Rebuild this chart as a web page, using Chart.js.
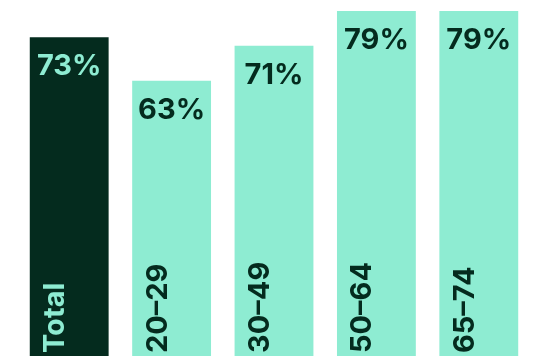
<!DOCTYPE html>
<html>
<head>
<meta charset="utf-8">
<script src="https://cdn.jsdelivr.net/npm/chart.js@4"></script>
<style>
  html, body { margin: 0; padding: 0; background: #ffffff; }
  #wrap { width: 542px; height: 356px; position: relative; }
</style>
</head>
<body>
<div id="wrap"><canvas id="chart"></canvas></div>
<script>
// share of respondents by age group
const categories = ['Total', '20–29', '30–49', '50–64', '65–74'];
const values = [73, 63, 71, 79, 79];

const DARK = '#042b1e';
const MINT = '#8eecd2';
const barColors = categories.map((c, i) => i === 0 ? DARK : MINT);
const textColors = categories.map((c, i) => i === 0 ? MINT : DARK);

const FONT = '700 29px Inter, "Noto Sans", sans-serif';

// value on top of each bar, category name rotated at the foot
const barLabels = {
    id: 'barLabels',
    afterDatasetsDraw(chart) {
        const { ctx } = chart;
        const meta = chart.getDatasetMeta(0);
        const bottom = chart.chartArea.bottom;
        ctx.save();
        ctx.font = FONT;
        meta.data.forEach((bar, i) => {
            ctx.fillStyle = textColors[i];
            ctx.textAlign = 'center';
            ctx.textBaseline = 'top';
            ctx.fillText(values[i] + '%', bar.x, bar.y + 15);

            ctx.save();
            ctx.translate(bar.x - 5, bottom - 3);
            ctx.rotate(-Math.PI / 2);
            ctx.textAlign = 'left';
            ctx.textBaseline = 'alphabetic';
            ctx.fillText(categories[i], 0, 0);
            ctx.restore();
        });
        ctx.restore();
    }
};

new Chart(document.getElementById('chart'), {
    type: 'bar',
    data: {
        labels: categories,
        datasets: [{
            data: values,
            backgroundColor: barColors,
            borderWidth: 0,
            barPercentage: 0.77,
            categoryPercentage: 1.0
        }]
    },
    options: {
        responsive: true,
        maintainAspectRatio: false,
        animation: false,
        layout: { padding: { left: 18, right: 12, top: 0, bottom: 0 } },
        plugins: {
            legend: { display: false },
            tooltip: { enabled: false }
        },
        scales: {
            x: { display: false },
            y: { display: false, min: 0, max: 81.5 }
        }
    },
    plugins: [barLabels]
});
</script>
</body>
</html>
